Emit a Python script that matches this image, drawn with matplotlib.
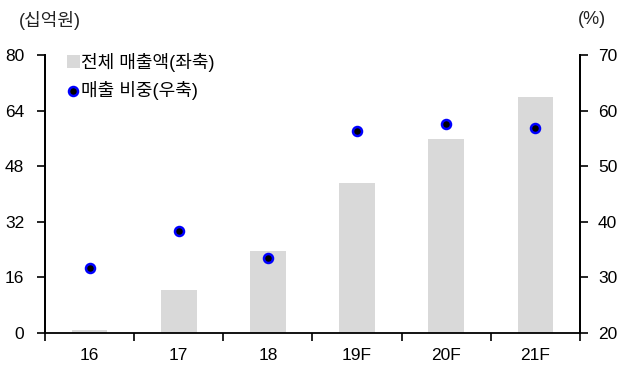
import matplotlib
matplotlib.use("Agg")
import matplotlib.pyplot as plt
import numpy as np

plt.rcParams['font.family'] = ['Liberation Sans', 'Noto Sans CJK KR']

categories = ["16", "17", "18", "19F", "20F", "21F"]
revenue = [0.8, 12.4, 23.6, 43.1, 55.8, 68.0]        # 전체 매출액 (십억원), left axis
share = [31.7, 38.3, 33.5, 56.3, 57.5, 56.8]         # 매출 비중 (%), right axis
left_ticks = [0, 16, 32, 48, 64, 80]
right_ticks = [20, 30, 40, 50, 60, 70]

fig = plt.figure(figsize=(6.21, 3.70), dpi=100)
ax = fig.add_axes([45/621, 37/370, 535/621, 278/370])
ax2 = ax.twinx()

x = np.arange(len(categories))
bars = ax.bar(x, revenue, width=0.4, color='#d9d9d9', zorder=1, label='전체 매출액(좌축)')
ax.set_xlim(-0.5, len(categories) - 0.5)
ax.set_ylim(0, 80)
ax.set_yticks(left_ticks)
ax2.set_ylim(20, 70)
ax2.set_yticks(right_ticks)

sc = ax2.scatter(x, share, s=42, facecolor='black', edgecolor='#0000ff', linewidth=1.8,
                 zorder=3, label='매출 비중(우축)')

# x ticks at category boundaries, labels at centers
ax.set_xticks(np.arange(-0.5, len(categories)), minor=False)
ax.set_xticklabels([''] * (len(categories) + 1))
ax.set_xticks(x, minor=True)
ax.set_xticklabels(categories, minor=True)
ax.tick_params(axis='x', which='major', direction='out', length=6, width=1.2)
ax.tick_params(axis='x', which='minor', length=0, pad=11, labelsize=12.5)
ax.tick_params(axis='y', direction='out', length=6, width=1.2, labelsize=12.5, pad=9)
ax2.tick_params(axis='y', direction='out', length=6, width=1.2, labelsize=12.5, pad=7)

for a in (ax, ax2):
    a.spines['top'].set_visible(False)
    for s in ('left', 'right', 'bottom'):
        a.spines[s].set_linewidth(1.3)
ax2.spines['bottom'].set_visible(False)

fig.text(19/621, 1 - 20/370, '(십억원)', fontsize=13, va='center', ha='left', color='#222222')
fig.text(606/621, 1 - 20/370, '(%)', fontsize=13, va='center', ha='right', color='#222222')

leg = ax2.legend(handles=[bars, sc], loc='upper left', bbox_to_anchor=(58/621, 1 - 44/370),
                 bbox_transform=fig.transFigure, frameon=False, fontsize=13,
                 handlelength=0.7, handletextpad=0.1, labelspacing=0.5, borderpad=0)

fig.savefig('out.png', dpi=100)
